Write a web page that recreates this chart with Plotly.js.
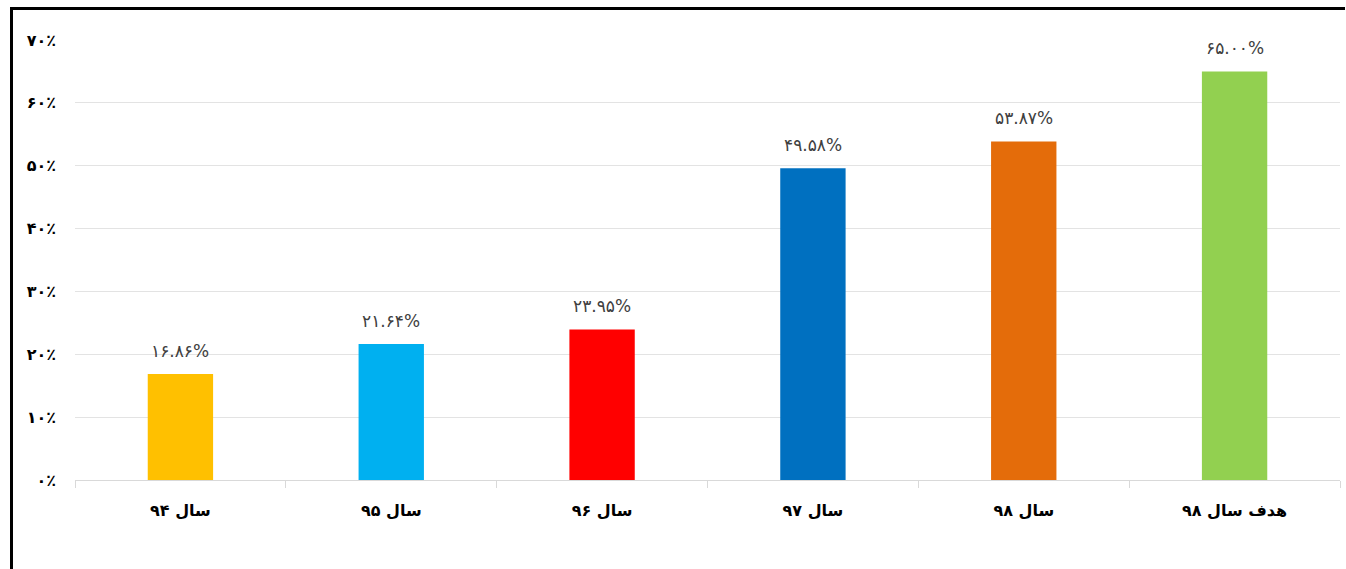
<!DOCTYPE html>
<html>
<head>
<meta charset="utf-8">
<script src="https://cdn.plot.ly/plotly-3.0.1.min.js"></script>
<style>
html,body{margin:0;padding:0;background:#fff;}
#wrap{position:relative;width:1346px;height:569px;overflow:hidden;}
#chart{position:absolute;left:0;top:0;width:1346px;height:569px;}
#frame{position:absolute;left:10px;top:7px;width:1332px;height:600px;border-left:3px solid #000;border-top:3px solid #000;pointer-events:none;}
</style>
</head>
<body>
<div id="wrap"><div id="chart"></div><div id="frame"></div></div>
<script>
const categories = ["سال ۹۴", "سال ۹۵", "سال ۹۶", "سال ۹۷", "سال ۹۸", "هدف سال ۹۸"];
const values = [16.86, 21.64, 23.95, 49.58, 53.87, 65.00];
const barColors = ["#FFC000", "#00B0F0", "#FF0000", "#0070C0", "#E46C0A", "#92D050"];
const yTickVals = [0, 10, 20, 30, 40, 50, 60, 70];
const yTickText = ["۰٪", "۱۰٪", "۲۰٪", "۳۰٪", "۴۰٪", "۵۰٪", "۶۰٪", "۷۰٪"];

const faDigits = "۰۱۲۳۴۵۶۷۸۹";
function toFa(s){ return String(s).replace(/[0-9]/g, d => faDigits[+d]); }
const labels = values.map(v => toFa(v.toFixed(2)) + "%");

const font = "DejaVu Sans, Noto Sans, sans-serif";

const annotations = categories.map((c, i) => ({
  x: c, y: values[i], xref: "x", yref: "y",
  text: labels[i], showarrow: false,
  yanchor: "bottom", yshift: 11,
  font: {family: font, size: 17, color: "#404040"}
}));

Plotly.newPlot("chart", [{
  type: "bar",
  x: categories,
  y: values,
  marker: {color: barColors},
  hoverinfo: "none"
}], {
  width: 1346, height: 569,
  margin: {l: 75, r: 6, t: 40, b: 89},
  paper_bgcolor: "#fff", plot_bgcolor: "#fff",
  bargap: 0.69,
  showlegend: false,
  annotations: annotations,
  xaxis: {
    type: "category",
    tickson: "boundaries",
    ticks: "outside", ticklen: 7, tickcolor: "#d9d9d9", tickwidth: 1,
    showline: true, linecolor: "#d9d9d9", linewidth: 1,
    showgrid: false,
    tickfont: {family: font, size: 16, color: "#000", weight: "bold"},
    ticklabelstandoff: 16
  },
  yaxis: {
    range: [0, 70],
    tickvals: yTickVals, ticktext: yTickText,
    showgrid: true, gridcolor: "#e3e3e3", gridwidth: 1,
    zeroline: false, showline: false, ticks: "",
    tickfont: {family: font, size: 16, color: "#000", weight: "bold"},
    ticklabelstandoff: 18
  }
}, {staticPlot: true});
</script>
</body>
</html>
